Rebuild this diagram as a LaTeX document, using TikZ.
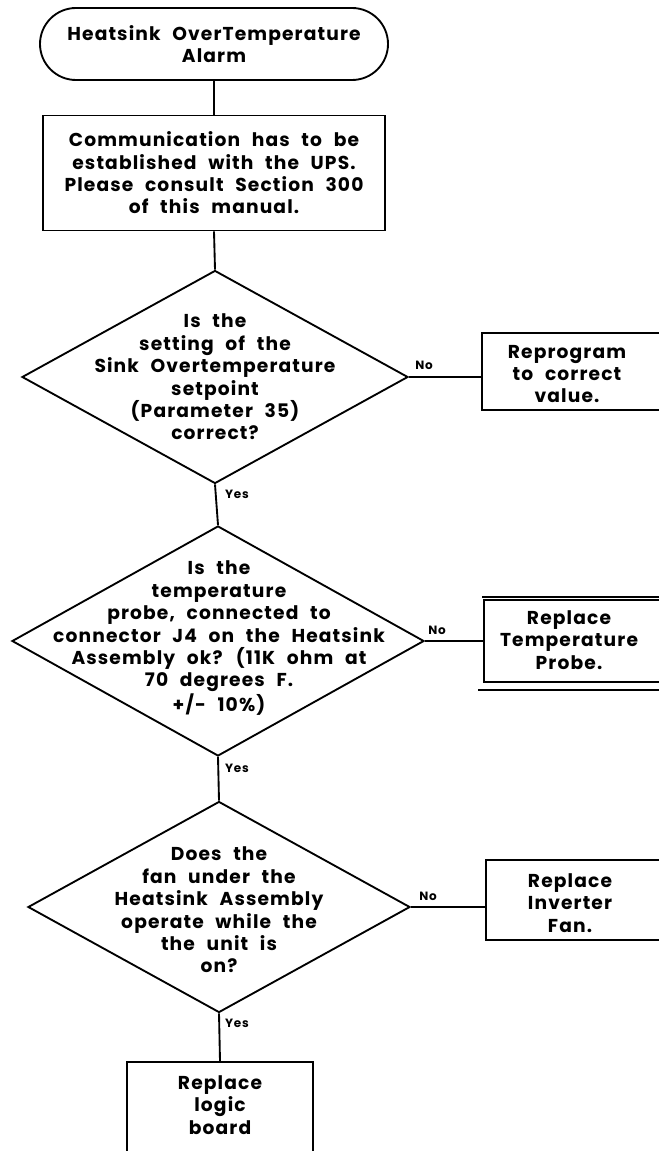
\documentclass[tikz,border=0pt]{standalone}
\usepackage{fontspec}
\setmainfont{Poppins}[WordSpace=2.3, LetterSpace=6]
\usetikzlibrary{shapes.geometric,shapes.misc}

\begin{document}
\begin{tikzpicture}[x=0.75pt,y=-0.75pt,
  every node/.style={font=\fontsize{14}{16.8}\selectfont\bfseries, align=center, inner sep=0pt},
  edge/.style={line width=1.4pt},
  boxshape/.style={draw, line width=1.4pt, rectangle},
  termshape/.style={draw, line width=1.4pt, rounded rectangle},
  decision/.style={draw, line width=1.4pt, diamond},
  qtext/.style={},
  answer/.style={font=\fontsize{9}{10}\selectfont\bfseries}
]
\useasboundingbox (0,0) rectangle (659,1151);
\clip (0,0) rectangle (659,1151);

% main column
\node[termshape, minimum width=261pt, minimum height=54pt] (start) at (214,44)
  {Heatsink OverTemperature\\Alarm};
\node[boxshape, minimum width=256.5pt, minimum height=86.25pt] (comm) at (214,173)
  {Communication has to be\\established with the UPS.\\Please consult Section 300\\of this manual.};

\node[decision, minimum width=289.5pt, minimum height=159.75pt] (q1) at (215,377) {};
\node[qtext] (q1t) at (q1.center)
  {Is the\\setting of the\\Sink Overtemperature\\setpoint\\(Parameter 35)\\correct?};

\node[decision, minimum width=309pt, minimum height=172.5pt] (q2) at (218,641) {};
\node[qtext] (q2t) at (219,638)
  {Is the\\temperature\\probe, connected to\\connector J4 on the Heatsink\\Assembly ok? (11K ohm at\\70 degrees F.\\+/- 10\%)};

\node[decision, minimum width=286.5pt, minimum height=158.25pt] (q3) at (219,907) {};
\node[qtext] (q3t) at (219,910)
  {Does the\\fan under the\\Heatsink Assembly\\operate while the\\the unit is\\on?};

\node[boxshape, minimum width=139.5pt, minimum height=105pt, anchor=north] (fin) at (220,1061) {};
\node (fint) at (220,1105) {Replace\\logic\\board};

% side actions, running off the right edge
\node[boxshape, minimum width=165pt, minimum height=57.75pt, anchor=west] (r1) at (481,371.5) {};
\node (r1t) at (567,374) {Reprogram\\to correct\\value.};

\node[boxshape, minimum width=165pt, minimum height=61.5pt, anchor=west] (r2) at (483,641) {};
\node (r2t) at (569,640) {Replace\\Temperature\\Probe.};
\coordinate (r2topa) at (482,597);
\coordinate (r2topb) at (700,597);
\coordinate (r2bota) at (478,690);
\coordinate (r2botb) at (700,690);
\draw[edge] (r2topa) -- (r2topb);
\draw[edge] (r2bota) -- (r2botb);

\node[boxshape, minimum width=165pt, minimum height=60pt, anchor=west] (r3) at (485,900) {};
\node (r3t) at (570,903) {Replace\\Inverter\\Fan.};

% connectors
\draw[edge] (start.south) -- (comm.north);
\draw[edge] (comm.south) -- (q1.north);
\draw[edge] (q1.south) -- (q2.north);
\draw[edge] (q2.south) -- (q3.north);
\draw[edge] (q3.south) -- (fin.north);
\draw[edge] (q1.east) -- (q1.east -| r1.west);
\draw[edge] (q2.east) -- (q2.east -| r2.west);
\draw[edge] (q3.east) -- (q3.east -| r3.west);

% answer labels
\node[answer] (n1) at (424,365) {No};
\node[answer] (y1) at (237,494) {Yes};
\node[answer] (n2) at (437,630) {No};
\node[answer] (y2) at (237,768) {Yes};
\node[answer] (n3) at (428,896) {No};
\node[answer] (y3) at (237,1023) {Yes};
\end{tikzpicture}
\end{document}
